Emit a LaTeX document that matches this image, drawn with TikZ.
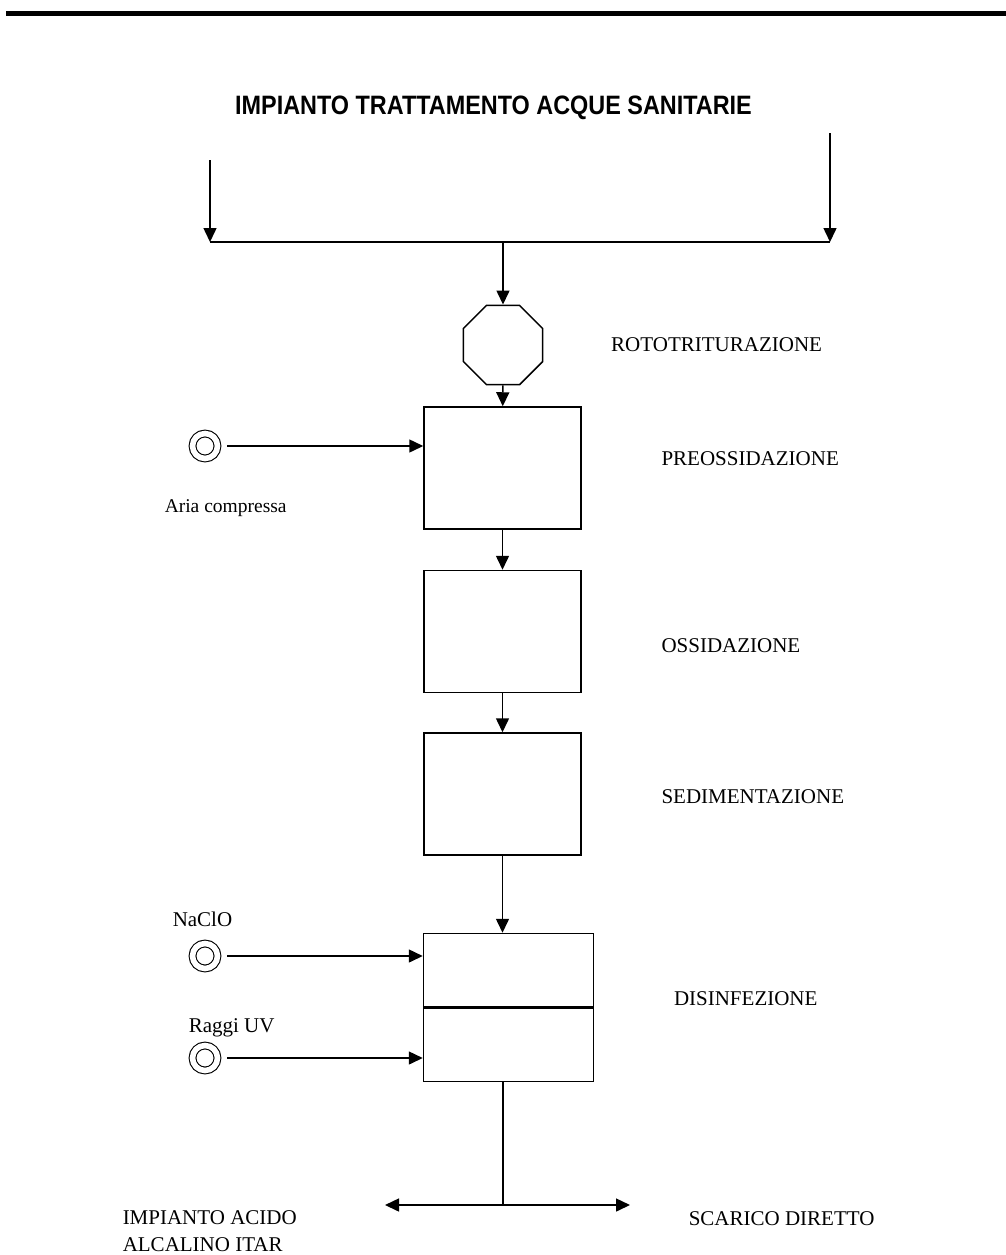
\documentclass[tikz,border=0pt]{standalone}
\usepackage{fontspec}
\setmainfont{Liberation Serif}
\newfontfamily\titlefont{Liberation Sans}
\usetikzlibrary{arrows.meta,positioning,shapes.geometric}

\begin{document}
\begin{tikzpicture}[x=1pt,y=-1pt,line width=1.5pt,node distance=40pt]
\tikzset{tank/.style={draw,minimum width=157pt,minimum height=122pt,inner sep=0pt},src/.style={circle,draw,double,double distance=5.6pt,line width=1.1pt,minimum size=25pt,inner sep=0pt},lbl/.style={font=\fontsize{21}{24}\selectfont,inner sep=0pt,anchor=west},arr/.style={-{Triangle[length=14pt,width=13pt]}}}
\useasboundingbox (0,0) rectangle (1006,1255);
\draw[line width=5pt] (6,13.5) -- (1006,13.5);
\node[font=\titlefont\bfseries\fontsize{26.6}{28}\selectfont,inner sep=0pt] (title) at (493.5,108) {\scalebox{.88}[1]{IMPIANTO TRATTAMENTO ACQUE SANITARIE}};
% inlets
\coordinate (inl) at (210,160); \coordinate (jl) at (210,242);
\coordinate (inr) at (830,133); \coordinate (jr) at (830,242);
\coordinate (jm) at (503,242);
\draw[arr](inl)--(jl);\draw[arr](inr)--(jr);\draw(jl)--(jr);
% treatment line
\node[draw,regular polygon,regular polygon sides=8,minimum size=86pt,inner sep=0pt] (roto) at (503,345) {};
\node[tank] (pre) at (502.5,468) {};
\node[tank,below=of pre] (oss) {};
\node[tank,below=39pt of oss] (sed) {};
\node[tank,minimum width=170pt,minimum height=148pt,below=77pt of sed,xshift=6pt] (dis) {};
\draw[line width=2.4pt](dis.west)--(dis.east);
\node[lbl,right=67pt of roto] (rotolbl) {ROTOTRITURAZIONE};
\node[lbl,right=79pt of pre,yshift=9pt] (prelbl) {PREOSSIDAZIONE};
\node[lbl,right=79pt of oss,yshift=-14pt] (osslbl) {OSSIDAZIONE};
\node[lbl,right=79pt of sed,yshift=-3pt] (sedlbl) {SEDIMENTAZIONE};
\node[lbl,right=79pt of dis,yshift=9pt] (dislbl) {DISINFEZIONE};
\draw[arr](jm)--(roto);\draw[arr](roto)--(pre);\draw[arr](pre)--(oss);\draw[arr](oss)--(sed);
\draw[arr](sed)--(sed |- dis.north);
% dosing
\node[src] (aria) at (205,446) {};
\node[src] (naclo) at (205,956) {};
\node[src] (uv) at (205,1058) {};
\node[lbl,font=\fontsize{19.5}{22}\selectfont] (arialbl) at (164,508) {Aria compressa};
\node[lbl] (naclolbl) at (172,919) {NaClO};
\node[lbl] (uvlbl) at (188,1028) {Raggi UV};
\draw[arr,shorten <=9pt](aria)--(aria -| pre.west);
\draw[arr,shorten <=9pt](naclo)--(naclo -| dis.west);
\draw[arr,shorten <=9pt](uv)--(uv -| dis.west);
% outlets
\coordinate (split) at (503,1205);
\coordinate (toitar) at (385,1205); \coordinate (toscar) at (630,1205);
\draw(jm |- dis.south)--(split);\draw[arr](split)--(toitar);\draw[arr](split)--(toscar);
\node[lbl,anchor=north west,align=left,font=\fontsize{21}{27}\selectfont] (itar) at (122,1210) {IMPIANTO ACIDO\\ALCALINO ITAR};
\node[lbl] (scarlbl) at (688,1219) {SCARICO DIRETTO};
\end{tikzpicture}
\end{document}
